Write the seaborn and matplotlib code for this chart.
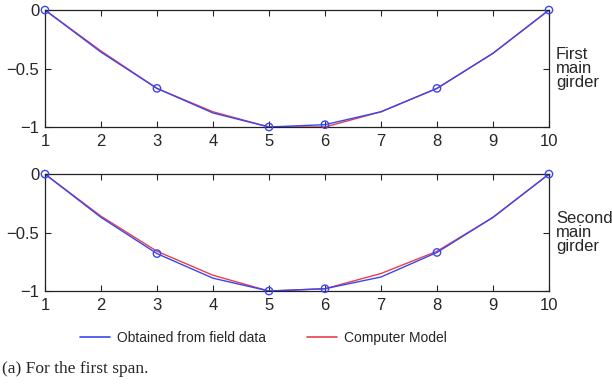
import numpy as np
import pandas as pd
import matplotlib
matplotlib.use("Agg")
import matplotlib.pyplot as plt
import seaborn as sns
from matplotlib.lines import Line2D

# node positions along the span
nodes = [1, 2, 3, 4, 5, 6, 7, 8, 9, 10]
measured_nodes = [1, 3, 5, 6, 8, 10]

# first main girder (normalised deflection)
field_g1 = [0, -0.36, -0.67, -0.88, -1.0, -0.98, -0.87, -0.67, -0.37, 0]
model_g1 = [0, -0.35, -0.67, -0.87, -1.0, -1.0, -0.87, -0.67, -0.37, 0]

# second main girder
field_g2 = [0, -0.37, -0.68, -0.89, -1.0, -0.98, -0.88, -0.67, -0.37, 0]
model_g2 = [0, -0.36, -0.66, -0.865, -1.0, -0.98, -0.85, -0.66, -0.37, 0]

panel_labels = ["First\nmain\ngirder", "Second\nmain\ngirder"]

sns.set_style("ticks")
plt.rcParams['font.family'] = ['Liberation Sans', 'DejaVu Sans']

blue = "#3c46f0"
red = "#e8404a"

fig = plt.figure(figsize=(6.12, 3.86), dpi=100)
ax1 = fig.add_axes([0.0735, 0.671, 0.8235, 0.303])
ax2 = fig.add_axes([0.0735, 0.246, 0.8235, 0.303])

for ax, field, model, lab in [(ax1, field_g1, model_g1, panel_labels[0]),
                              (ax2, field_g2, model_g2, panel_labels[1])]:
    df = pd.DataFrame({"node": nodes, "field": field, "model": model})
    sns.lineplot(data=df, x="node", y="model", ax=ax, color=red, lw=1.0)
    sns.lineplot(data=df, x="node", y="field", ax=ax, color=blue, lw=1.0)
    mk = df[df["node"].isin(measured_nodes)]
    sns.scatterplot(data=mk, x="node", y="field", ax=ax, marker="o",
                    facecolor="none", edgecolor=blue, s=28, linewidth=1.0,
                    zorder=5, clip_on=False)
    ax.set_xlim(1, 10)
    ax.set_ylim(-1, 0)
    ax.set_xticks(nodes)
    ax.set_yticks([-1, -0.5, 0])
    ax.set_yticklabels(["\u22121", "\u22120.5", "0"])
    ax.set_xlabel("")
    ax.set_ylabel("")
    ax.tick_params(direction="in", top=True, right=True, length=4,
                   labelsize=12, width=0.8)
    ax.tick_params(axis="x", pad=5)
    ax.tick_params(axis="y", pad=4)
    for s in ax.spines.values():
        s.set_linewidth(0.9)
        s.set_color("#222222")
    ax.text(1.014, 0.5, lab, transform=ax.transAxes, fontsize=12,
            va="center", ha="left", linespacing=0.92)

handles = [Line2D([], [], color=blue, lw=1.2), Line2D([], [], color=red, lw=1.2)]
fig.legend(handles, ["Obtained from field data", "Computer Model"],
           loc="center", bbox_to_anchor=(0.43, 0.125), ncol=2, frameon=False,
           fontsize=10, handlelength=2.2, columnspacing=2.95, handletextpad=0.45)

fig.text(0.004, 0.045, "(a) For the first span.", fontsize=12.5,
         family=['Liberation Serif', 'DejaVu Serif'], va="center", ha="left")

fig.savefig("out.png", dpi=100)
